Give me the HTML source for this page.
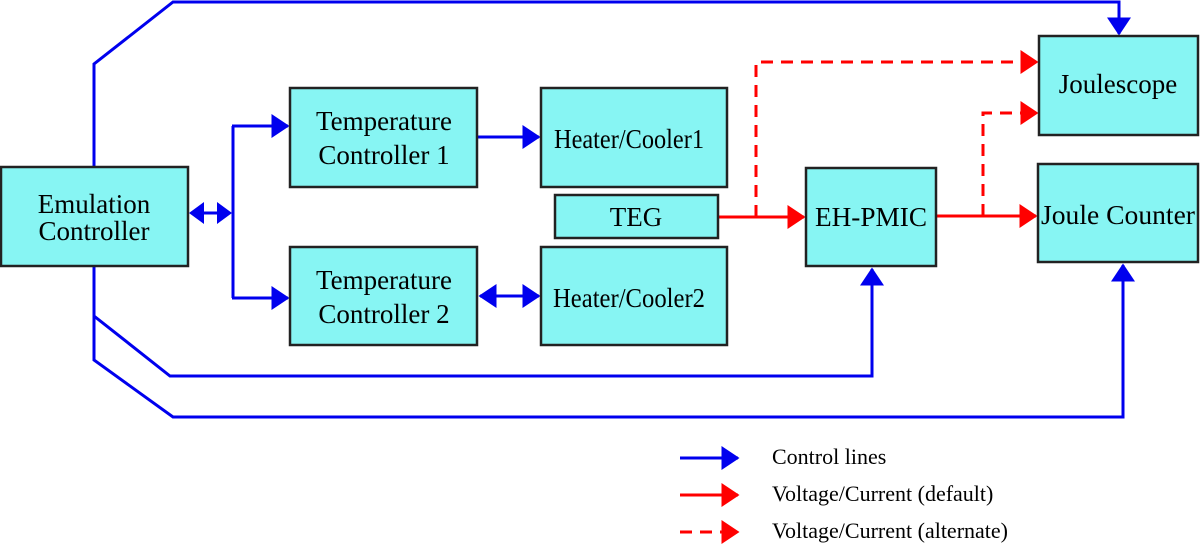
<!DOCTYPE html>
<html><head><style>
html,body{margin:0;padding:0;background:#fff;}
svg{display:block;}
svg text{font-family:"Liberation Serif","Times New Roman",serif !important;fill:#000;}
</style></head><body>
<svg width="1200" height="547" viewBox="0 0 1200 547" xmlns="http://www.w3.org/2000/svg" font-family="Liberation Serif, serif">
<defs>
<marker id="b" markerWidth="6" markerHeight="8" refX="5.5" refY="4" orient="auto" markerUnits="strokeWidth"><path d="M0,0 L6,4 L0,8 z" fill="#0000ee"/></marker>
<marker id="bs" markerWidth="6" markerHeight="8" refX="0.5" refY="4" orient="auto" markerUnits="strokeWidth"><path d="M6,0 L0,4 L6,8 z" fill="#0000ee"/></marker>
<marker id="r" markerWidth="6" markerHeight="8" refX="5.5" refY="4" orient="auto" markerUnits="strokeWidth"><path d="M0,0 L6,4 L0,8 z" fill="#ff0000"/></marker>
</defs>
<g fill="none" stroke="#0000ee" stroke-width="3">
<path d="M94,167 L94,64 L173,2 L1119,2 L1119,34" marker-end="url(#b)"/>
<path d="M94,266 L94,316 L170,376 L872,376 L872,269" marker-end="url(#b)"/>
<path d="M94,316 L94,360 L173,417 L1123,417 L1123,265" marker-end="url(#b)"/>
<path d="M195,213 L226,213"/>
<path d="M233,126 L233,298"/>
<path d="M232,126 L288,126" marker-end="url(#b)"/>
<path d="M232,298 L288,298" marker-end="url(#b)"/>
<path d="M477,137 L539,137" marker-end="url(#b)"/>
<path d="M480,296 L539,296" marker-start="url(#bs)" marker-end="url(#b)"/>
</g>
<g fill="#0000ee">
<polygon points="189,213 204,202 204,224"/>
<polygon points="232,213 217,202 217,224"/>
</g>
<g fill="none" stroke="#ff0000" stroke-width="3">
<path d="M718,217 L804,217" marker-end="url(#r)"/>
<path d="M936,216 L1036,216" marker-end="url(#r)"/>
<path d="M756,217 L756,62 L1037,62" stroke-dasharray="12,8" marker-end="url(#r)"/>
<path d="M983,216 L983,113 L1037,113" stroke-dasharray="12,8" marker-end="url(#r)"/>
<path d="M680,458 L738,458" marker-end="url(#b)" stroke="#0000ee"/>
<path d="M680,495 L738,495" marker-end="url(#r)"/>
<path d="M680,532 L738,532" stroke-dasharray="12,8" marker-end="url(#r)"/>
</g>
<g fill="#87f5f3" stroke="#222" stroke-width="2.5">
<rect x="1" y="167" width="187" height="99"/>
<rect x="290" y="88" width="187" height="99"/>
<rect x="290" y="247" width="187" height="98"/>
<rect x="541" y="88" width="186" height="99"/>
<rect x="555" y="195" width="163" height="43"/>
<rect x="541" y="247" width="186" height="98"/>
<rect x="806" y="168" width="130" height="98"/>
<rect x="1039" y="36" width="159" height="99"/>
<rect x="1038" y="164" width="160" height="98"/>
</g>
<g text-anchor="middle" font-size="27" font-family="Liberation Serif, serif">
<text x="94" y="213">Emulation</text><text x="94" y="240">Controller</text>
<text x="384" y="130">Temperature</text><text x="384" y="164">Controller 1</text>
<text x="384" y="289">Temperature</text><text x="384" y="323">Controller 2</text>
<text x="629" y="148" textLength="150" lengthAdjust="spacingAndGlyphs">Heater/Cooler1</text>
<text x="636" y="226">TEG</text>
<text x="629" y="307" textLength="152" lengthAdjust="spacingAndGlyphs">Heater/Cooler2</text>
<text x="871" y="226" textLength="112" lengthAdjust="spacingAndGlyphs">EH-PMIC</text>
<text x="1118" y="93">Joulescope</text>
<text x="1118" y="224" textLength="154" lengthAdjust="spacingAndGlyphs">Joule Counter</text>
</g>
<g font-size="22" font-family="Liberation Serif, serif">
<text x="772" y="464">Control lines</text>
<text x="772" y="501">Voltage/Current (default)</text>
<text x="772" y="538">Voltage/Current (alternate)</text>
</g>
</svg>
</body></html>
